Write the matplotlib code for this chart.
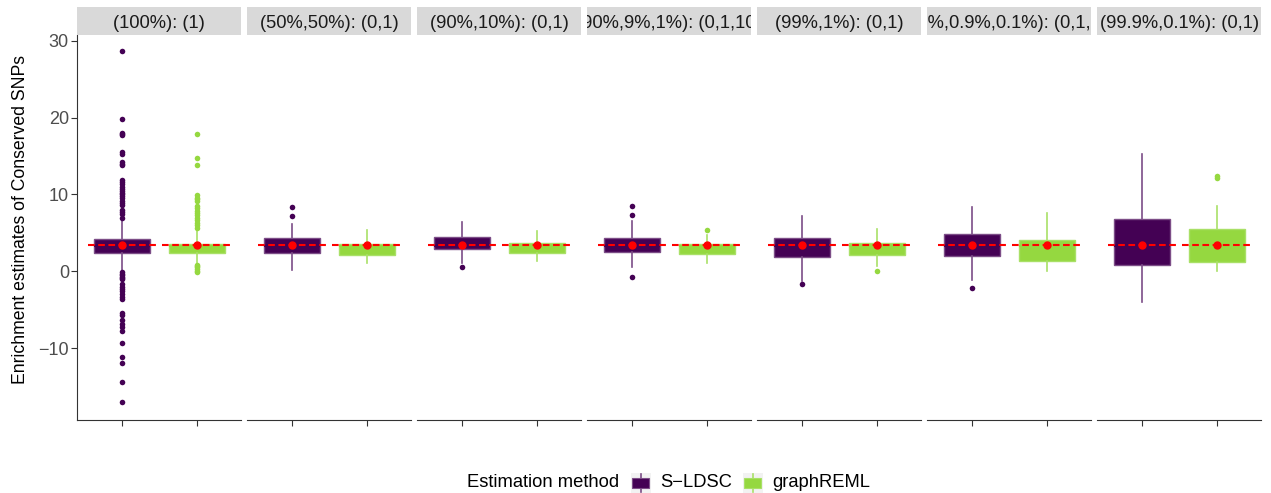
import numpy as np
import matplotlib.pyplot as plt
from matplotlib.patches import Rectangle
from matplotlib.lines import Line2D

plt.rcParams['font.family'] = ['Liberation Sans', 'DejaVu Sans']

scenarios = ['(100%): (1)', '(50%,50%): (0,1)', '(90%,10%): (0,1)',
             '(90%,9%,1%): (0,1,10)', '(99%,1%): (0,1)',
             '(99%,0.9%,0.1%): (0,1,10)', '(99.9%,0.1%): (0,1)']
methods = ['S\u2212LDSC', 'graphREML']
fills = ['#440154', '#95D840']
lines = ['#7c4d87', '#a9e067']
true_enrichment = 3.37

# S-LDSC summaries per scenario
sldsc_q1 = [2.43, 2.39, 2.87, 2.48, 1.91, 2.04, 0.83]
sldsc_med = [3.35, 3.35, 3.35, 3.35, 3.35, 3.35, 3.35]
sldsc_q3 = [4.26, 4.34, 4.47, 4.39, 4.39, 4.82, 6.82]
sldsc_lo = [0.05, 0.22, 1.09, 0.53, -1.30, -1.17, -4.03]
sldsc_hi = [6.60, 6.12, 6.47, 6.60, 7.25, 8.38, 15.20]
sldsc_mean = [3.37, 3.37, 3.37, 3.37, 3.37, 3.37, 3.37]
sldsc_out = [
    [28.6, 19.8, 18.0, 17.8, 17.7, 15.5, 15.3, 14.2, 14.0, 13.8, 11.9, 11.6,
     11.3, 11.0, 10.7, 10.4, 10.2, 10.0, 9.8, 9.5, 9.2, 8.9, 8.6, 8.0, 7.7,
     7.5, 6.9,
     -0.1, -0.3, -0.5, -0.7, -0.9, -1.0, -1.7, -2.0, -2.3, -2.6, -3.0, -3.3,
     -3.6, -5.4, -5.7, -6.3, -6.8, -7.3, -7.7, -9.3, -11.1, -11.9, -14.4,
     -17.0],
    [8.34, 7.25],
    [0.57],
    [8.55, 7.34, -0.78],
    [-1.6],
    [-2.17],
    [],
]

# graphREML summaries per scenario
greml_q1 = [2.43, 2.09, 2.39, 2.26, 2.13, 1.30, 1.17]
greml_med = [3.35, 3.35, 3.35, 3.35, 3.35, 3.35, 3.35]
greml_q3 = [3.57, 3.56, 3.73, 3.56, 3.65, 4.08, 5.47]
greml_lo = [0.95, 1.05, 1.31, 1.05, 0.65, 0.0, 0.0]
greml_hi = [5.34, 5.43, 5.26, 4.78, 5.56, 7.60, 8.51]
greml_mean = [3.37, 3.37, 3.37, 3.37, 3.37, 3.37, 3.37]
greml_out = [
    [17.8, 14.7, 13.8, 9.9, 9.6, 9.4, 9.1, 8.5, 8.2, 7.9, 7.6, 7.3, 7.0, 6.7,
     6.3, 6.0, 5.7, 0.85, 0.7, 0.5, 0.3, 0.1, -0.1],
    [],
    [],
    [5.34],
    [0.0],
    [],
    [12.4, 12.2],
]

W, H = 1271, 493
fig = plt.figure(figsize=(W / 100, H / 100), dpi=100)

panel_w, gap = 164, 6
left0, top, bottom, strip_h = 77.3, 34.7, 420, 28

def stats(q1, med, q3, lo, hi, mean, out, i):
    return dict(q1=q1[i], med=med[i], q3=q3[i], whislo=lo[i], whishi=hi[i],
                mean=mean[i], fliers=out[i])

for i, name in enumerate(scenarios):
    x0 = left0 + i * (panel_w + gap)
    ax = fig.add_axes([x0 / W, 1 - bottom / H, panel_w / W, (bottom - top) / H])
    box_stats = [stats(sldsc_q1, sldsc_med, sldsc_q3, sldsc_lo, sldsc_hi, sldsc_mean, sldsc_out, i),
                 stats(greml_q1, greml_med, greml_q3, greml_lo, greml_hi, greml_mean, greml_out, i)]
    for k, st in enumerate(box_stats):
        ax.bxp([st], positions=[k + 1], widths=0.75, patch_artist=True,
               showcaps=False, showmeans=False,
               boxprops=dict(facecolor=fills[k], edgecolor=lines[k], linewidth=1.0),
               whiskerprops=dict(color=lines[k], linewidth=1.2),
               medianprops=dict(color=fills[k], linewidth=1.5),
               flierprops=dict(marker='o', markersize=4, markerfacecolor=fills[k],
                               markeredgecolor='none'))
        ax.hlines(true_enrichment, k + 1 - 0.46, k + 1 + 0.46, colors='red',
                  linestyles=(0, (3.2, 1.7)), linewidth=1.5, zorder=5)
        ax.plot(k + 1, st['mean'], 'o', color='red', markersize=5, zorder=6)

    ax.set_xlim(0.4, 2.6)
    ax.set_ylim(-19.34, 30.78)
    ax.set_xticks([1, 2])
    ax.set_xticklabels([])
    ax.set_yticks([-10, 0, 10, 20, 30])
    for s in ['top', 'right']:
        ax.spines[s].set_visible(False)
    ax.spines['bottom'].set_color('#333333')
    ax.tick_params(axis='x', length=4.5, width=0.8, color='#333333')
    if i == 0:
        ax.spines['left'].set_color('#333333')
        ax.tick_params(axis='y', length=4, width=0.8, color='#333333',
                       labelsize=13, labelcolor='#4d4d4d', pad=2)
        ax.set_ylabel('Enrichment estimates of Conserved SNPs', fontsize=12.7)
        ax.yaxis.set_label_coords(-0.295, 0.52)
    else:
        ax.spines['left'].set_visible(False)
        ax.tick_params(axis='y', left=False, labelleft=False)

    sax = fig.add_axes([x0 / W, 1 - top / H, panel_w / W, strip_h / H])
    sax.set_facecolor('#d9d9d9')
    sax.set_xticks([])
    sax.set_yticks([])
    for s in sax.spines.values():
        s.set_visible(False)
    sax.text(0.5, 0.4, name, ha='center', va='center', fontsize=13.2,
             color='#1a1a1a', transform=sax.transAxes, clip_on=True)

# legend along the bottom
cy = 482.7
ly = 1 - cy / H
fig.text(466.7 / W, ly, 'Estimation method', ha='left', va='center', fontsize=13.2)
for k, (kx, tx) in enumerate([(630.5, 660.7), (742.5, 772.0)]):
    ks = 20
    fig.patches.append(Rectangle((kx / W, (H - cy - ks / 2) / H), ks / W, ks / H,
                                 transform=fig.transFigure, facecolor='#f2f2f2',
                                 edgecolor='none'))
    fig.patches.append(Rectangle(((kx + 1.5) / W, (H - cy - 5) / H), 17 / W, 10 / H,
                                 transform=fig.transFigure, facecolor=fills[k],
                                 edgecolor=lines[k], linewidth=0.8, zorder=3))
    fig.lines.append(Line2D([(kx + ks / 2) / W] * 2,
                            [(H - cy - ks / 2 + 1) / H, (H - cy + ks / 2 - 1) / H],
                            transform=fig.transFigure, color=lines[k], linewidth=1.2,
                            zorder=2))
    fig.text(tx / W, ly, methods[k], ha='left', va='center', fontsize=13.2)

fig.savefig('out.png', dpi=100)
